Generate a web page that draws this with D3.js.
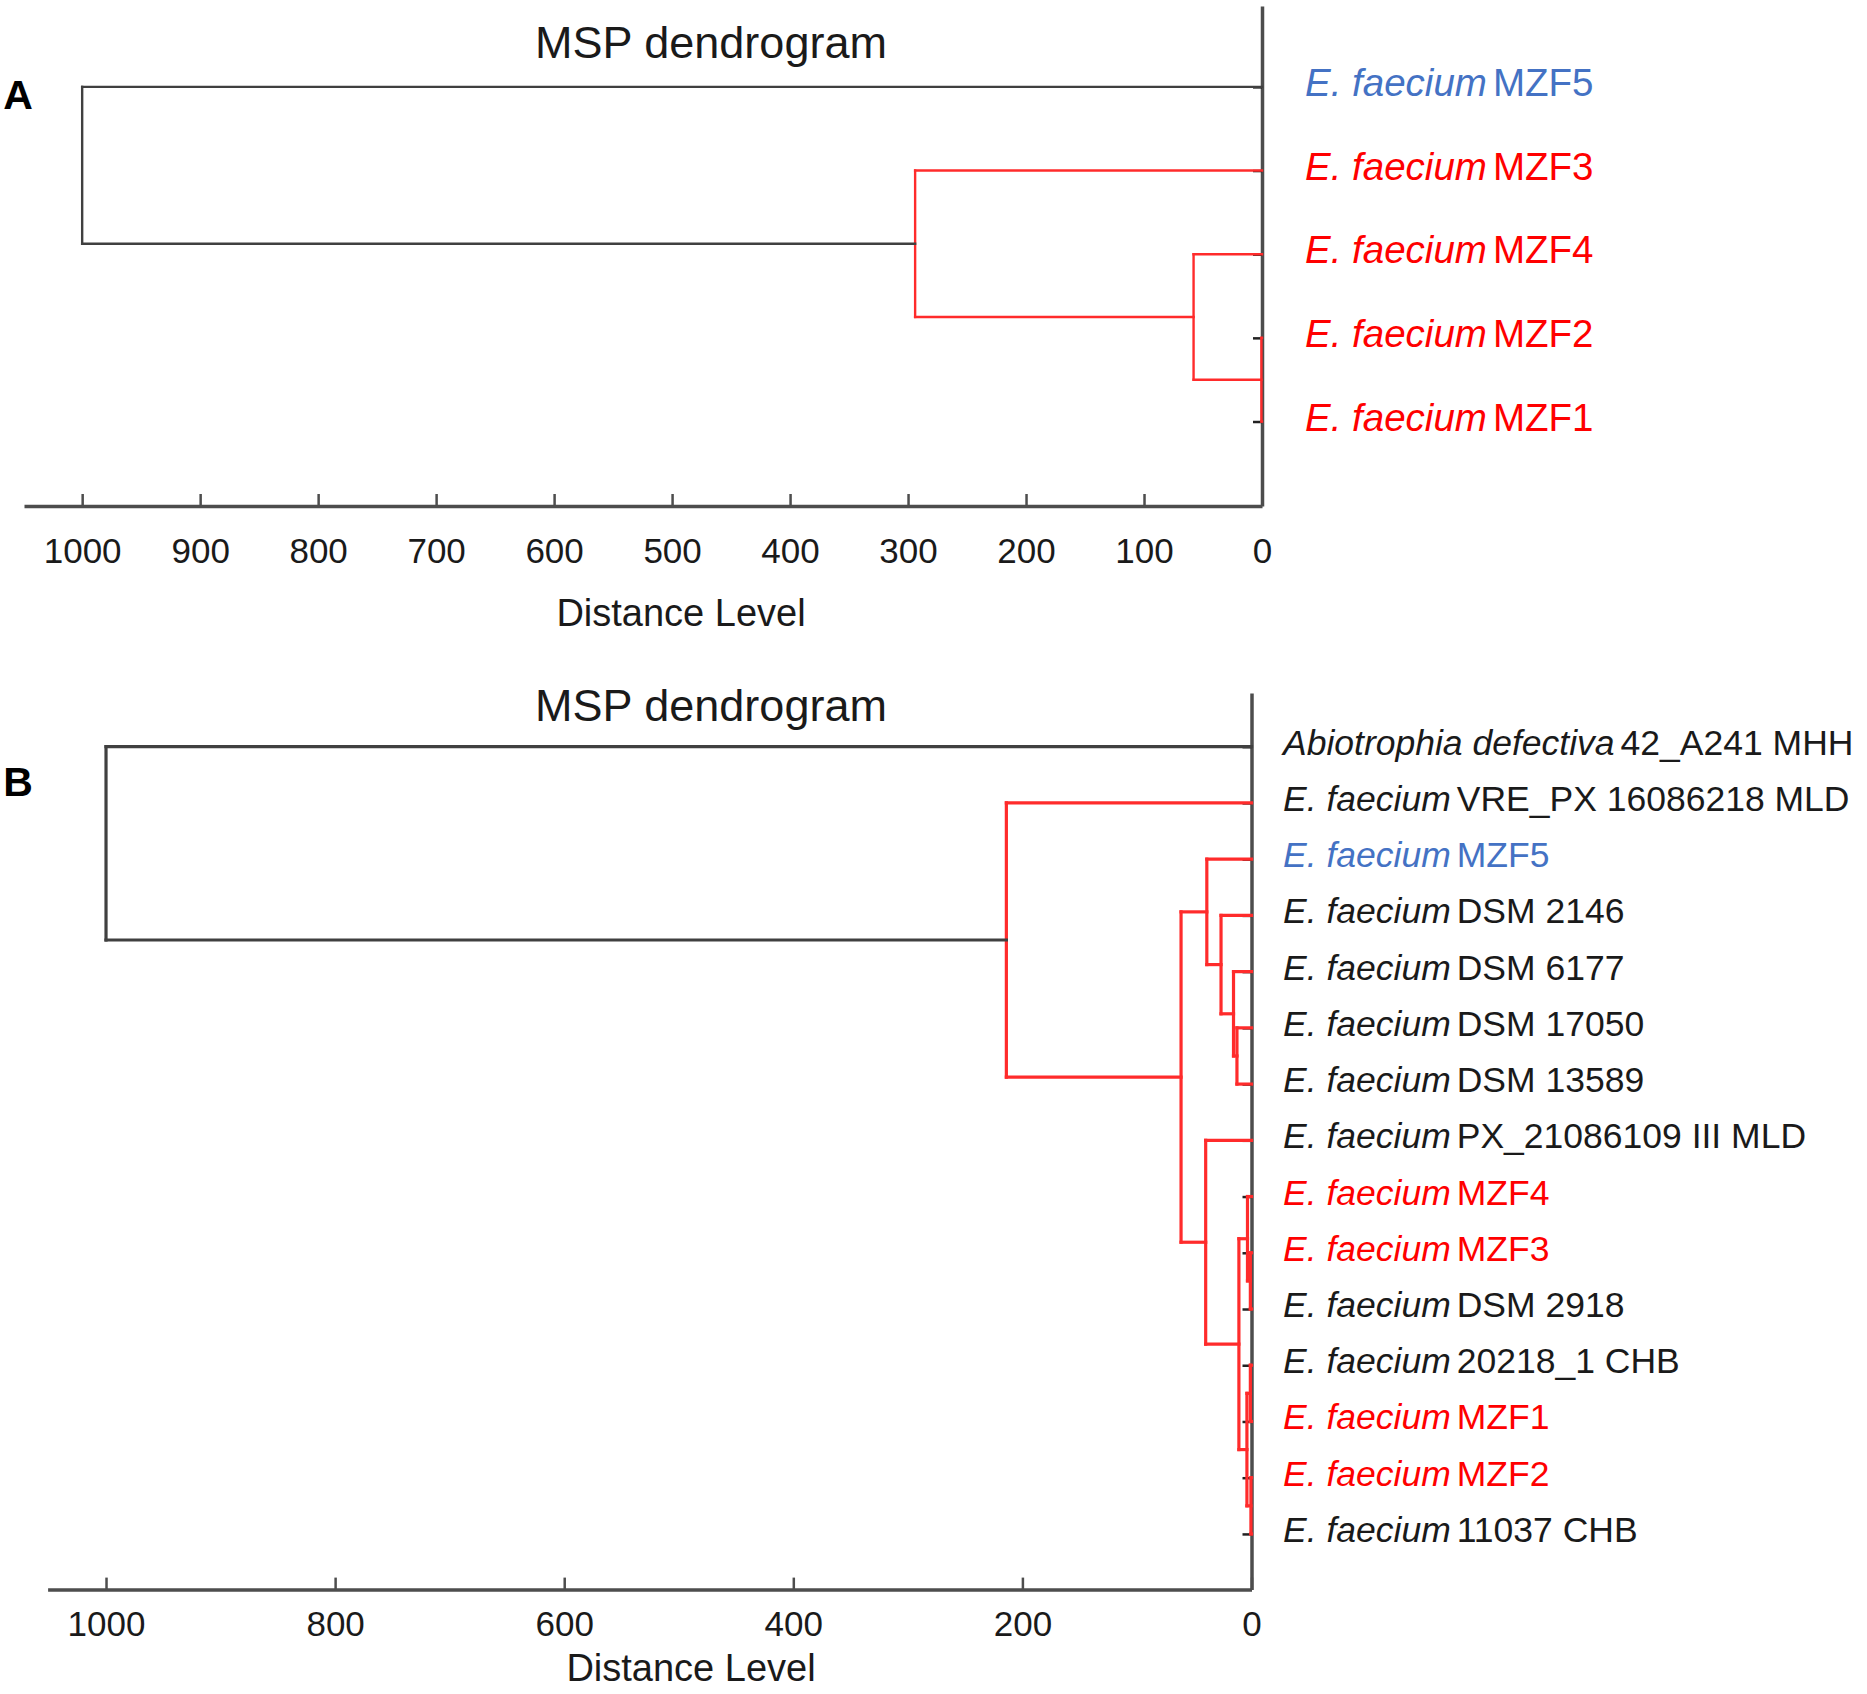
<!DOCTYPE html>
<html>
<head>
<meta charset="utf-8">
<script src="https://cdn.jsdelivr.net/npm/d3@7"></script>
<style>
  body { margin: 0; background: #fff; }
  text { font-family: "Liberation Sans", Arial, Helvetica, sans-serif; }
</style>
</head>
<body>
<div id="chart"></div>
<script>
// ---- panel A data ----
var italicA = ["E. faecium", "E. faecium", "E. faecium", "E. faecium", "E. faecium"];
var plainA = ["MZF5", "MZF3", "MZF4", "MZF2", "MZF1"];
var groupA = ["blue", "red", "red", "red", "red"];
// merges: ids 0..n-1 are leaves, merge k gets id n+k
var mergeLeftA = [3, 2, 1, 0];
var mergeRightA = [4, 5, 6, 7];
var mergeHeightA = [0.5, 58, 294, 1000];
var ticksA = [1000, 900, 800, 700, 600, 500, 400, 300, 200, 100, 0];

// ---- panel B data ----
var italicB = ["Abiotrophia defectiva", "E. faecium", "E. faecium", "E. faecium", "E. faecium",
  "E. faecium", "E. faecium", "E. faecium", "E. faecium", "E. faecium", "E. faecium",
  "E. faecium", "E. faecium", "E. faecium", "E. faecium"];
var plainB = ["42_A241  MHH", "VRE_PX 16086218 MLD", "MZF5", "DSM 2146", "DSM 6177",
  "DSM 17050", "DSM 13589", "PX_21086109 III MLD", "MZF4", "MZF3", "DSM 2918",
  "20218_1 CHB", "MZF1", "MZF2", "11037 CHB"];
var groupB = ["black", "black", "blue", "black", "black", "black", "black", "black",
  "red", "red", "black", "black", "red", "red", "black"];
var mergeLeftB = [5, 4, 3, 2, 9, 8, 11, 13, 21, 20, 7, 18, 1, 0];
var mergeRightB = [6, 15, 16, 17, 10, 19, 12, 14, 22, 23, 24, 25, 26, 27];
var mergeHeightB = [12.7, 15.7, 26.6, 39, 1, 3.5, 1, 0.5, 4, 11, 40, 61.5, 214, 1000];
var ticksB = [1000, 800, 600, 400, 200, 0];

var textColor = { black: "#1a1a1a", red: "#ff0000", blue: "#4472c4" };
var axisColor = "#4d4d4d";
var treeRed = "#ff2b2b";
var treeBlack = "#404040";

var W = 1867, H = 1694;
var svg = d3.select("#chart").append("svg")
    .attr("width", W)
    .attr("height", H)
    .style("background", "#fff");

function drawPanel(p) {
    var n = p.plain.length;
    var g = svg.append("g");

    var x = d3.scaleLinear().domain([p.dMax, 0]).range([p.left, p.x0]);
    var y = d3.scaleLinear().domain([p.iTop, p.iBase]).range([p.top, p.base]);

    // vertical axis with leaf ticks
    var yAxis = g.append("g")
        .attr("transform", "translate(" + p.x0 + ",0)")
        .call(d3.axisLeft(y).tickValues(d3.range(n)).tickFormat("")
            .tickSizeInner(9).tickSizeOuter(0));
    yAxis.select(".domain").attr("stroke", axisColor).attr("stroke-width", 3.5);
    yAxis.selectAll(".tick line").attr("stroke", "#222").attr("stroke-width", 2.5);

    // distance axis, ticks pointing up
    var xAxis = g.append("g")
        .attr("transform", "translate(0," + p.base + ")")
        .call(d3.axisBottom(x).tickValues(p.ticks).tickFormat(d3.format("d"))
            .tickSizeInner(-12).tickSizeOuter(0).tickPadding(p.tickPad));
    xAxis.select(".domain").attr("stroke", axisColor).attr("stroke-width", 3.5);
    xAxis.selectAll(".tick line").attr("stroke", axisColor).attr("stroke-width", 2.5);
    xAxis.selectAll(".tick text")
        .attr("fill", "#1a1a1a")
        .style("font-size", "35px")
        .style("font-family", "'Liberation Sans', Arial, Helvetica, sans-serif");

    // build the tree from the merge lists
    var pos = [], hgt = [];
    for (var i = 0; i < n; i++) { pos[i] = i; hgt[i] = 0; }
    var segs = [];
    var rootId = n + p.mLeft.length - 1;
    p.mLeft.forEach(function(l, k) {
        var r = p.mRight[k], id = n + k, h = p.mHeight[k];
        pos[id] = (pos[l] + pos[r]) / 2;
        hgt[id] = h;
        var c = id === rootId ? treeBlack : treeRed;
        segs.push({ d1: h, i1: pos[l], d2: h, i2: pos[r], c: c });
        segs.push({ d1: h, i1: pos[l], d2: hgt[l], i2: pos[l], c: c });
        segs.push({ d1: h, i1: pos[r], d2: hgt[r], i2: pos[r], c: c });
    });

    g.selectAll("line.link")
        .data(segs)
        .enter()
        .append("line")
        .attr("class", "link")
        .attr("x1", function(d) { return x(d.d1); })
        .attr("y1", function(d) { return y(d.i1); })
        .attr("x2", function(d) { return x(d.d2); })
        .attr("y2", function(d) { return y(d.i2); })
        .attr("stroke", function(d) { return d.c; })
        .attr("stroke-width", p.lineW)
        .attr("stroke-linecap", "square");

    // leaf labels
    var lab = g.selectAll("text.leaf")
        .data(d3.range(n))
        .enter()
        .append("text")
        .attr("class", "leaf")
        .attr("x", p.labelX)
        .attr("y", function(d) { return y(d) + p.labelShift; })
        .attr("dominant-baseline", "central")
        .attr("font-size", p.labelSize)
        .attr("fill", function(d) { return textColor[p.group[d]]; });
    lab.append("tspan")
        .attr("font-style", "italic")
        .text(function(d) { return p.italic[d]; });
    lab.append("tspan")
        .attr("dx", 6)
        .text(function(d) { return p.plain[d]; });

    // title, axis label, panel letter
    g.append("text")
        .attr("x", 711)
        .attr("y", p.titleY)
        .attr("text-anchor", "middle")
        .attr("dominant-baseline", "central")
        .attr("font-size", 45)
        .attr("fill", "#1a1a1a")
        .text("MSP dendrogram");

    g.append("text")
        .attr("x", p.xLabelX)
        .attr("y", p.xLabelY)
        .attr("text-anchor", "middle")
        .attr("dominant-baseline", "central")
        .attr("font-size", 38)
        .attr("fill", "#1a1a1a")
        .text("Distance Level");

    g.append("text")
        .attr("x", 18)
        .attr("y", p.letterY)
        .attr("text-anchor", "middle")
        .attr("dominant-baseline", "central")
        .attr("font-size", 41)
        .attr("font-weight", "bold")
        .attr("fill", "#000")
        .text(p.letter);
}

drawPanel({
    letter: "A", letterY: 95,
    italic: italicA, plain: plainA, group: groupA,
    mLeft: mergeLeftA, mRight: mergeRightA, mHeight: mergeHeightA,
    ticks: ticksA,
    dMax: 1049.3, left: 24, x0: 1262,
    iTop: -0.967, iBase: 5.01, top: 6, base: 506,
    tickPad: 32, lineW: 2.4,
    labelX: 1305, labelSize: 38.5, labelShift: -5,
    titleY: 42, xLabelX: 681, xLabelY: 613
});

drawPanel({
    letter: "B", letterY: 782,
    italic: italicB, plain: plainB, group: groupB,
    mLeft: mergeLeftB, mRight: mergeRightB, mHeight: mergeHeightB,
    ticks: ticksB,
    dMax: 1051, left: 47.6, x0: 1251.5,
    iTop: -0.955, iBase: 14.99, top: 693, base: 1589.6,
    tickPad: 22, lineW: 3.2,
    labelX: 1283, labelSize: 35.5, labelShift: -4,
    titleY: 705, xLabelX: 691, xLabelY: 1668
});
</script>
</body>
</html>
